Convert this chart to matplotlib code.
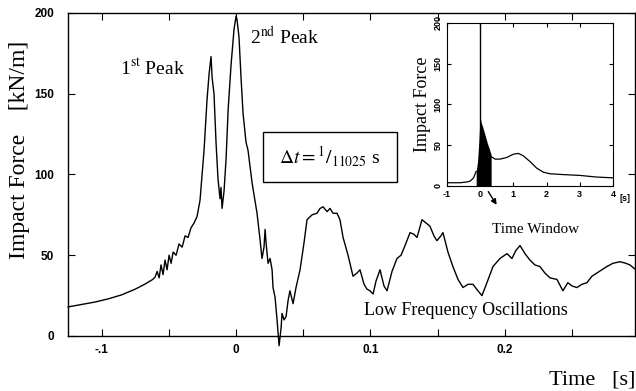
import matplotlib.pyplot as plt
from matplotlib.patches import Rectangle

plt.rcParams['font.family'] = ['Liberation Serif', 'DejaVu Serif']
plt.rcParams['mathtext.fontset'] = 'stix'

# Main record: impact force around the slam, time in s, force in kN/m
time_s = [-0.1249, -0.1150, -0.1050, -0.0950, -0.0850, -0.0750, -0.0680, -0.0620,
          -0.0602, -0.0587, -0.0572, -0.0558, -0.0543,
          -0.0528, -0.0513, -0.0498, -0.0483, -0.0468, -0.0446, -0.0424, -0.0401,
          -0.0379, -0.0357, -0.0335, -0.0312, -0.0290, -0.0268, -0.0238, -0.0216,
          -0.0201, -0.0186, -0.0178, -0.0164, -0.0149, -0.0134, -0.0119, -0.0112,
          -0.0104, -0.0089, -0.0074, -0.0059, -0.0037, -0.0015, 0.0, 0.0007,
          0.0022, 0.0037, 0.0052, 0.0074, 0.0089, 0.0119, 0.0156, 0.0178,
          0.0193, 0.0208, 0.0216, 0.0223, 0.0238, 0.0253, 0.0268, 0.0275,
          0.0290, 0.0305, 0.0320, 0.0335, 0.0342, 0.0357, 0.0372, 0.0387,
          0.0401, 0.0424, 0.0446, 0.0476, 0.0506, 0.0528, 0.0565, 0.0602,
          0.0625, 0.0647, 0.0677, 0.0699, 0.0721, 0.0751, 0.0773, 0.0796,
          0.0833, 0.0870, 0.0900, 0.0922, 0.0952, 0.0974, 0.0996, 0.1019,
          0.1041, 0.1071, 0.1100, 0.1123, 0.1160, 0.1197, 0.1227, 0.1257,
          0.1294, 0.1323, 0.1346, 0.1383, 0.1413, 0.1442, 0.1472, 0.1494,
          0.1524, 0.1539, 0.1576, 0.1613, 0.1651, 0.1688, 0.1725, 0.1762,
          0.1799, 0.1829, 0.1866, 0.1911, 0.1963, 0.2015, 0.2052, 0.2082,
          0.2112, 0.2149, 0.2186, 0.2223, 0.2260, 0.2297, 0.2335, 0.2387,
          0.2431, 0.2468, 0.2498, 0.2535, 0.2572, 0.2610, 0.2647, 0.2684,
          0.2721, 0.2758, 0.2803, 0.2855, 0.2900, 0.2929, 0.2974]
force = [18, 19.5, 21, 23, 25.5, 29, 32, 35,
         36.5, 40, 36, 44, 38,
         47, 41, 50, 45, 52, 50, 57, 55,
         62, 61, 67, 70, 74, 84, 115, 146,
         162, 173, 160, 150, 120, 97, 85, 92,
         79, 90, 110, 140, 168, 190, 198, 196,
         185, 160, 138, 120, 115, 95, 76, 60,
         48, 55, 66, 58, 45, 48, 41, 30,
         24, 10, -6, 5, 14, 10, 12, 22,
         28, 20, 30, 41, 58, 72, 75, 76,
         79, 80, 77, 79, 76, 76, 72, 61,
         50, 37, 39, 41, 32, 29, 28, 26,
         34, 41, 31, 28, 40, 48, 50, 56,
         64, 63, 61, 72, 70, 68, 62, 59,
         62, 64, 52, 43, 35, 30, 32, 32,
         28, 25, 33, 43, 48, 51, 48, 53,
         56, 51, 47, 44, 43, 39, 36, 35,
         28, 33, 31, 30, 32, 33, 37, 39,
         41, 43, 45, 46, 45, 44, 41]

# Inset: the whole event, slow part outside the time window
pre_t = [-1.0, -0.8, -0.6, -0.4, -0.3, -0.2, -0.15, -0.12]
pre_f = [4, 4, 4, 5, 6, 10, 15, 18]
post_t = [0.33, 0.45, 0.6, 0.8, 1.0, 1.15, 1.3, 1.5, 1.7, 1.9, 2.1, 2.5, 3.0, 3.5, 4.0]
post_f = [36, 33, 33, 35, 39, 40, 37, 30, 22, 17, 15, 14, 13, 11, 10]
# envelope of the dense oscillations inside the time window
win_t = [-0.12, -0.08, -0.04, -0.01, 0.01, 0.03, 0.08, 0.15, 0.22, 0.28, 0.33]
win_top = [18, 30, 55, 80, 82, 78, 72, 62, 52, 45, 38]
spike_f = 200

main_xticks = [-0.1, 0.0, 0.1, 0.2]
main_xlabels = ['-.1', '0', '0.1', '0.2']
main_yticks = [0, 50, 100, 150, 200]
inset_xticks = [-1, 0, 1, 2, 3, 4]
inset_yticks = [0, 50, 100, 150, 200]

tick_font = {'family': ['Liberation Sans Narrow', 'Liberation Sans'], 'weight': 'bold'}

fig = plt.figure(figsize=(6.36, 3.91), dpi=100)
ax = fig.add_axes([0.1069, 0.1407, 0.8921, 0.8261])
ax.plot(time_s, force, color='black', lw=1.0, clip_on=False)
ax.set_xlim(-0.125, 0.297)
ax.set_ylim(0, 200)
ax.set_xticks(main_xticks)
ax.set_xticklabels(main_xlabels, fontdict=tick_font, fontsize=8.5)
ax.set_xticks([-0.05, 0.05, 0.15, 0.25], minor=True)
ax.set_yticks(main_yticks)
ax.set_yticklabels([str(v) for v in main_yticks], fontdict=tick_font, fontsize=8.5)
ax.tick_params(which='both', direction='in', top=True, right=True, length=5, width=0.8)
ax.tick_params(axis='x', pad=6)
ax.tick_params(axis='y', pad=10)
for s in ax.spines.values():
    s.set_linewidth(1.0)

fig.text(0.03, 0.616, 'Impact Force    [kN/m]', rotation=90, fontsize=17,
         ha='center', va='center')
fig.text(0.999, 0.028, 'Time   [s]', fontsize=16, ha='right', va='center')

ax.text(-0.0862, 166, r'1$^{\rm st}$ Peak', fontsize=14, va='center')
ax.text(0.0104, 185, r'2$^{\rm nd}$ Peak', fontsize=14, va='center')
ax.add_patch(Rectangle((0.3436, 0.4768), 0.2361, 0.1548, transform=ax.transAxes,
                       fill=False, lw=1.0, ec='black'))
ax.text(0.0699, 110.8, r'$\Delta t = {}^{1}/_{11025}$ s', fontsize=14,
        ha='center', va='center')
ax.text(0.171, 16, 'Low Frequency Oscillations', fontsize=13, ha='center', va='center')

# inset
ins = fig.add_axes([0.7028, 0.5243, 0.2610, 0.4169])
ins.plot(pre_t, pre_f, color='black', lw=0.9)
ins.plot(post_t, post_f, color='black', lw=0.9)
ins.fill_between(win_t, 0, win_top, color='black', lw=0)
ins.vlines(0, 0, spike_f, color='black', lw=1.0)
ins.set_xlim(-1, 4)
ins.set_ylim(0, 200)
ins.set_xticks(inset_xticks)
ins.set_xticklabels([str(v) for v in inset_xticks], fontdict=tick_font, fontsize=6.5)
ins.set_yticks(inset_yticks)
ins.set_yticklabels([str(v) for v in inset_yticks], fontdict=tick_font, fontsize=6.5,
                    rotation=90, va='center')
ins.tick_params(direction='in', top=True, right=True, length=3, width=0.8, pad=3)
ins.set_ylabel('Impact Force', fontsize=13, labelpad=2)
ins.text(1.04, -0.075, '[s]', transform=ins.transAxes, fontdict=tick_font, fontsize=6.5,
         ha='left', va='center')
ins.annotate('', xy=(0.54, -26), xytext=(0.2, -4), annotation_clip=False,
             arrowprops=dict(arrowstyle='-|>', color='black', lw=1.0, mutation_scale=8))
ins.text(1.66, -53, 'Time Window', fontsize=11, ha='center', va='center')

plt.savefig('out.png', dpi=100)
